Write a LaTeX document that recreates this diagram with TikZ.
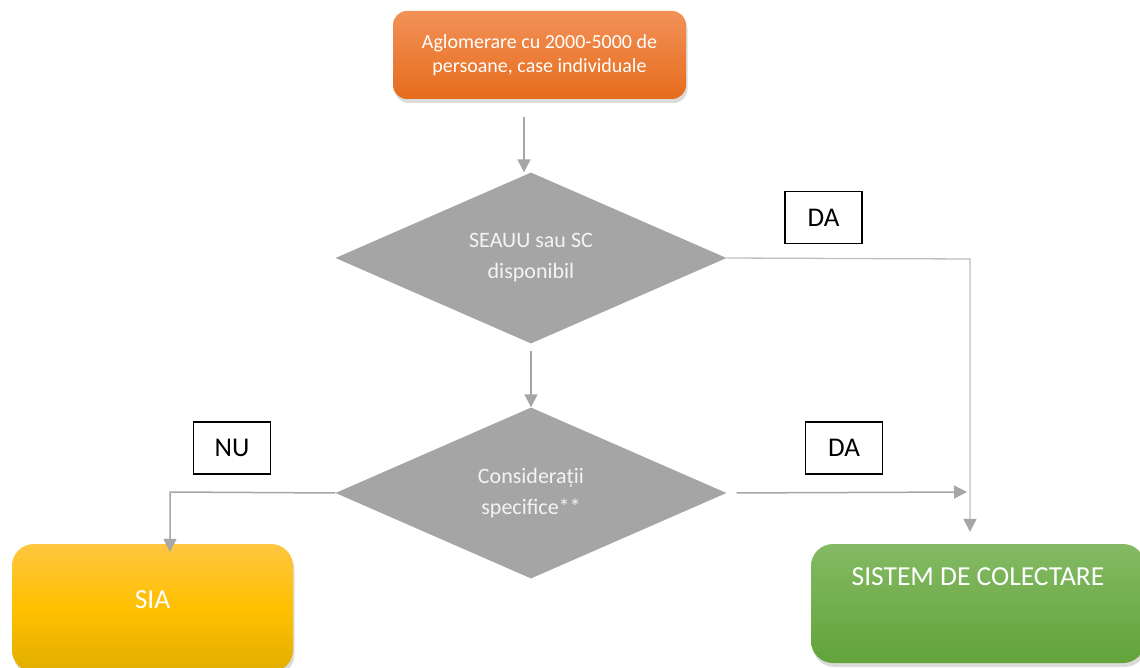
\documentclass[tikz,border=0pt]{standalone}
\usepackage{fontspec}
\setmainfont{Carlito}
\usetikzlibrary{shapes.geometric,arrows.meta,shadows}
\definecolor{lineg}{RGB}{166,166,166}
\definecolor{lineg2}{RGB}{190,190,190}
\definecolor{diag}{RGB}{165,165,165}
\definecolor{dtext}{RGB}{244,244,244}
\definecolor{orTop}{RGB}{242,145,88}
\definecolor{orBot}{RGB}{230,108,28}
\definecolor{yeTop}{RGB}{255,198,64}
\definecolor{yeMid}{RGB}{255,192,0}
\definecolor{yeBot}{RGB}{226,174,0}
\definecolor{grTop}{RGB}{132,186,100}
\definecolor{grBot}{RGB}{98,163,58}
\tikzset{
  boxshadow/.style={drop shadow={opacity=0.28, shadow xshift=1.5pt, shadow yshift=-4pt}},
  topbox/.style={rectangle, rounded corners=14pt, minimum width=293pt, minimum height=88pt,
    top color=orTop, bottom color=orBot, draw=none, boxshadow, align=center,
    text=white, font=\fontsize{20}{24}\selectfont, inner sep=0pt},
  diabox/.style={diamond, aspect=2.3, fill=diag, minimum width=391pt, minimum height=171pt,
    inner sep=0pt, align=center, text=dtext, font=\fontsize{22}{31}\selectfont},
  lblbox/.style={rectangle, draw=black, line width=1.6pt, minimum width=77pt, minimum height=52pt,
    inner sep=0pt, font=\fontsize{27}{30}\selectfont},
  siabox/.style={rectangle, rounded corners=22pt, minimum width=281pt, minimum height=128pt,
    top color=yeTop, bottom color=yeBot, middle color=yeMid, boxshadow, inner sep=0pt},
  greenbox/.style={rectangle, rounded corners=22pt, minimum width=334pt, minimum height=119pt,
    top color=grTop, bottom color=grBot, boxshadow, inner sep=0pt},
  boxtext/.style={text=white, font=\fontsize{27.5}{30}\selectfont, inner sep=0pt},
  conn/.style={draw=lineg, line width=1.5pt, -{Triangle[width=13pt,length=13pt]}},
  thinconn/.style={draw=lineg2, line width=1.3pt, -{Triangle[width=13pt,length=13pt,fill=lineg,color=lineg]}}
}
\begin{document}
\begin{tikzpicture}[x=1pt,y=-1pt]
\useasboundingbox (0,0) rectangle (1140,668);
\clip (0,0) rectangle (1140,668);
\fill[white] (0,0) rectangle (1140,668);

% nodes
\node[topbox] (top) at (539.5,55) {Aglomerare cu 2000-5000 de\\persoane, case individuale};
\node[diabox] (d1) at (531,258) {SEAUU sau SC\\disponibil};
\node[diabox] (d2) at (531,493) {Considerații\\specifice**};
\node[lblbox] (da1) at (823.5,217.5) {DA};
\node[lblbox] (nu) at (232,448) {NU};
\node[lblbox] (da2) at (844,448) {DA};
\node[siabox] (sia) at (152.5,608) {};
\node[boxtext] (sialbl) at (152.5,600) {SIA};
\node[greenbox] (green) at (978,603.5) {};
\node[boxtext] (greenlbl) at (978,577) {SISTEM DE COLECTARE};

% connectors
\coordinate (a1s) at ([xshift=-15.5pt,yshift=-18pt]top.south);
\draw[conn] (a1s) -- (a1s |- d1.north);
\coordinate (c1) at (970,259);
\draw[thinconn, shorten >=12pt] (d1.east) -- (c1) -- (c1 |- green.north);
\draw[conn, shorten <=7pt] (d1.south) -- (d2.north);
\coordinate (c2) at (170,492);
\draw[conn, shorten >=-8pt] (d2.west) -- (c2) -- (c2 |- sia.north);
\coordinate (c3) at (967,492);
\draw[conn, shorten <=10pt] (d2.east) -- (c3);
\end{tikzpicture}
\end{document}
